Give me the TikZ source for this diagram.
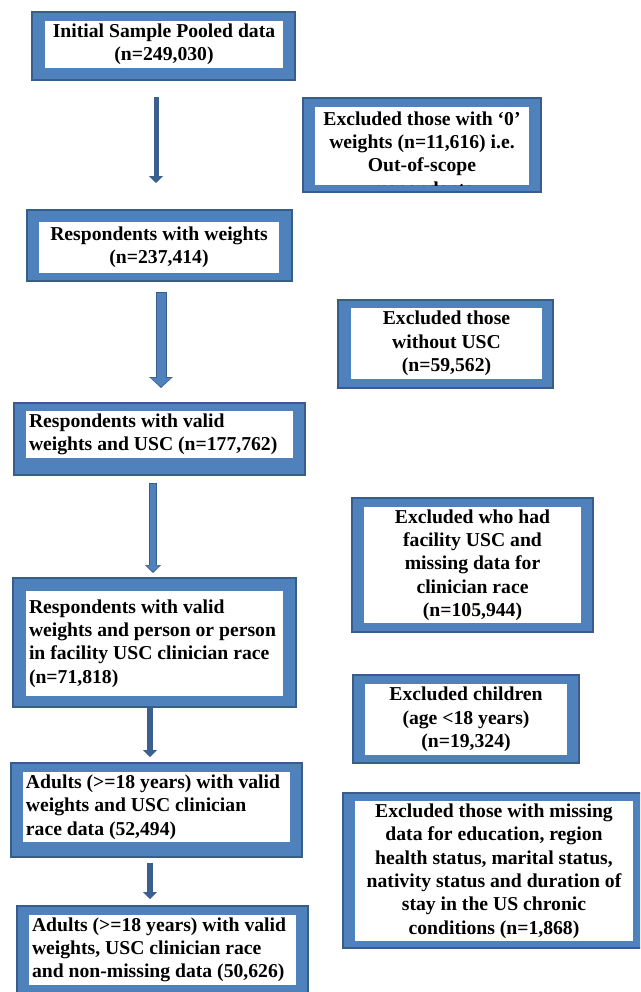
\documentclass[tikz,border=0pt]{standalone}
\usepackage{fontspec}
\setmainfont{Liberation Serif}
\usetikzlibrary{arrows.meta}

\definecolor{frameblue}{RGB}{79,129,189}
\definecolor{framedark}{RGB}{56,93,138}
\definecolor{arrdark}{RGB}{59,95,143}

\tikzset{every picture/.style={line width=0.75pt}}
\tikzset{
	outframe/.style={draw=framedark, fill=frameblue, line width=1.5pt},
	inframe/.style={fill=white},
	boxtext/.style={inner sep=0pt, align=center,
		font=\bfseries\fontsize{14.75pt}{17.5pt}\selectfont},
	lefttext/.style={boxtext, align=left, anchor=west},
	thinarr/.style={draw=arrdark, line width=4.5pt, -{Triangle[length=5.25pt,width=10.5pt]}},
	midarr/.style={draw=frameblue, line width=4.5pt, shorten >=1pt, shorten <=0.75pt,
		-{Triangle[length=4.75pt,width=10pt]},
		preaction={draw=framedark, line width=6pt, shorten >=0pt, shorten <=0pt,
			-{Triangle[length=6pt,width=12pt]}}},
	fatarr/.style={draw=frameblue, line width=6.75pt, shorten >=1.1pt, shorten <=0.8pt,
		-{Triangle[length=6.5pt,width=15pt]},
		preaction={draw=framedark, line width=8.25pt, shorten >=0pt, shorten <=0pt,
			-{Triangle[length=8.25pt,width=17.25pt]}}}
}

\begin{document}
\begin{tikzpicture}[x=0.75pt,y=0.75pt,yscale=-1,xscale=1]
	\useasboundingbox (0,0) rectangle (640,992);
	\clip (0,0) rectangle (640,992);

	%Shape: Rectangle
	\draw[outframe] (32,12) rectangle (295,80);
	\fill[inframe] (45,21) rectangle (283,68);
	% Text Node
	\node[boxtext] (init) at (164,44.5) {Initial Sample Pooled data\\(n=249,030)};

	%Shape: Rectangle
	\draw[outframe] (303,98) rectangle (541,192);
	\fill[inframe] (315,107) rectangle (529,185);
	% Text Node (cut off at the bottom)
	\begin{scope}
		\clip (315,107) rectangle (529,185);
		\node[boxtext, anchor=north] (zerow) at (422,111) {Excluded those with ‘0’\\weights (n=11,616) i.e.\\Out-of-scope\\respondents};
	\end{scope}

	%Shape: Rectangle
	\draw[outframe] (27,210) rectangle (292,281);
	\fill[inframe] (39,222) rectangle (279,273);
	% Text Node
	\node[boxtext] (withw) at (159,247.5) {Respondents with weights\\(n=237,414)};

	%Shape: Rectangle
	\draw[outframe] (338,300) rectangle (553,388);
	\fill[inframe] (351,308) rectangle (542,379);
	% Text Node
	\node[boxtext] (nousc) at (446.5,343.5) {Excluded those\\without USC\\(n=59,562)};

	%Shape: Rectangle
	\draw[outframe] (14,403) rectangle (305,475);
	\fill[inframe] (26,411) rectangle (293,458);
	% Text Node
	\node[lefttext] (validusc) at (28.5,434.5) {Respondents with valid\\weights and USC (n=177,762)};

	%Shape: Rectangle
	\draw[outframe] (352,498) rectangle (593,632);
	\fill[inframe] (364,507) rectangle (581,623);
	% Text Node
	\node[boxtext] (facility) at (472.5,565) {Excluded who had\\facility USC and\\missing data for\\clinician race\\(n=105,944)};

	%Shape: Rectangle
	\draw[outframe] (13,578) rectangle (296,707);
	\fill[inframe] (26,591) rectangle (283,696);
	% Text Node
	\node[lefttext] (clinrace) at (28.5,643.5) {Respondents with valid\\weights and person or person\\in facility USC clinician race\\(n=71,818)};

	%Shape: Rectangle
	\draw[outframe] (353,675) rectangle (579,763);
	\fill[inframe] (365,684) rectangle (567,755);
	% Text Node
	\node[boxtext] (children) at (466,719.5) {Excluded children\\(age <18 years)\\(n=19,324)};

	%Shape: Rectangle
	\draw[outframe] (11,763) rectangle (302,857);
	\fill[inframe] (23,772) rectangle (290,842);
	% Text Node
	\node[lefttext] (adults) at (25.5,807) {Adults (>=18 years) with valid\\weights and USC clinician\\race data (52,494)};

	%Shape: Rectangle
	\draw[outframe] (343,793) rectangle (645,948);
	\fill[inframe] (355,801) rectangle (633,941);
	% Text Node
	\node[boxtext] (missing) at (494,871) {Excluded those with missing\\data for education, region\\health status, marital status,\\nativity status and duration of\\stay in the US chronic\\conditions (n=1,868)};

	%Shape: Rectangle
	\draw[outframe] (17,906) rectangle (308,997);
	\fill[inframe] (29,915) rectangle (296,985);
	% Text Node
	\node[lefttext] (final) at (31.5,950) {Adults (>=18 years) with valid\\weights, USC clinician race\\and non-missing data (50,626)};

	%Straight Lines
	\coordinate (arr1top) at (156,97);
	\coordinate (arr1tip) at (156,183);
	\draw[thinarr, line width=3.75pt] (arr1top) -- (arr1tip);
	%Straight Lines
	\coordinate (arr2top) at (161,292);
	\coordinate (arr2tip) at (161,388);
	\draw[fatarr] (arr2top) -- (arr2tip);
	%Straight Lines
	\coordinate (arr3top) at (153,483);
	\coordinate (arr3tip) at (153,573);
	\draw[midarr] (arr3top) -- (arr3tip);
	%Straight Lines
	\coordinate (arr4top) at (150,708);
	\coordinate (arr4tip) at (150,757);
	\draw[thinarr] (arr4top) -- (arr4tip);
	%Straight Lines
	\coordinate (arr5top) at (150,863);
	\coordinate (arr5tip) at (150,899);
	\draw[thinarr] (arr5top) -- (arr5tip);

\end{tikzpicture}
\end{document}
